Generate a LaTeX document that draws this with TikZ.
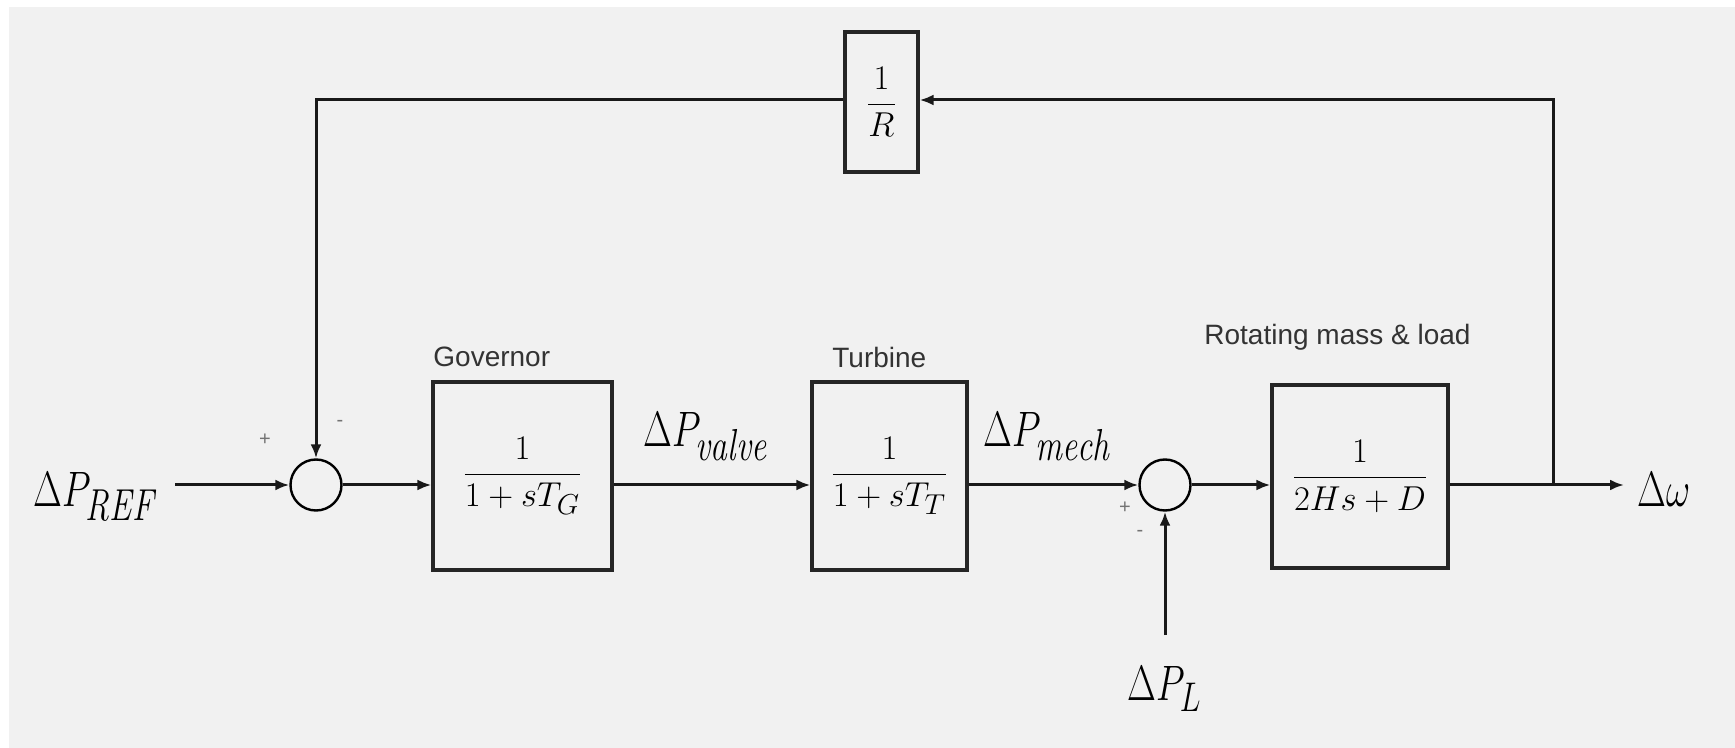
\documentclass[tikz,border=0pt]{standalone}
\usepackage{fontspec}
\usepackage{graphicx}
\setsansfont{Liberation Sans}
\usetikzlibrary{arrows.meta,calc}
\definecolor{bg}{RGB}{241,241,241}
\newcommand{\narrow}[1]{\scalebox{0.75}[1]{#1}}
\begin{document}
\begin{tikzpicture}[x=0.5pt,y=-0.5pt,
  conn/.style={line width=1.5pt, draw=black!90},
  arr/.style={conn,-{Latex[length=7pt,width=5.5pt]}},
  blk/.style={draw=black!85, line width=1.6pt, inner sep=0pt, font=\fontsize{19}{23}\selectfont},
  sumnode/.style={circle, draw=black, line width=1.2pt, minimum size=25.5pt, inner sep=0pt},
  lab/.style={font=\sffamily\fontsize{14}{16}\selectfont, anchor=base west, inner sep=0pt, text=black!80},
  sig/.style={font=\sffamily\fontsize{10}{10}\selectfont, inner sep=0pt, text=black!55},
  var/.style={anchor=base west, inner sep=0pt, font=\fontsize{32}{34}\selectfont}]
\fill[white] (0,0) rectangle (1735,748);
\fill[bg] (9,7) rectangle (1735,748);
\useasboundingbox (0,0) rectangle (1735,748);

% variables
\node[var] (ref) at (33,507) {\narrow{$\Delta P_{\mathit{REF}}$}};
\node[var] (valve) at (643,447) {\narrow{$\Delta P_{\mathit{valve}}$}};
\node[var] (mech) at (983,447) {\narrow{$\Delta P_{\mathit{mech}}$}};
\node[var] (pl) at (1127,700) {\narrow{$\Delta P_{L}$}};
\node[var] (w) at (1637,507) {\narrow{$\Delta\omega$}};

% blocks
\node[sumnode] (s1) at (316,485) {};
\node[blk, minimum width=89.5pt, minimum height=94pt] (gov) at (522.5,476) {$\displaystyle\frac{1}{1+sT_G}$};
\node[blk, minimum width=77.5pt, minimum height=94pt] (tur) at (889.5,476) {$\displaystyle\frac{1}{1+sT_T}$};
\node[sumnode] (s2) at (1165,485) {};
\node[blk, minimum width=88pt, minimum height=91.5pt] (load) at (1360,476.5) {$\displaystyle\frac{1}{2Hs+D}$};
\node[blk, minimum width=36.5pt, minimum height=70pt] (rbox) at (881.5,102) {$\displaystyle\frac{1}{R}$};

% labels
\node[lab] (govl) at (433,367) {Governor};
\node[lab] (turl) at (832,368) {Turbine};
\node[lab] (loadl) at (1204,345) {Rotating mass \& load};
\node[sig] (p1) at (265,440) {+};
\node[sig] (m1) at (340,423) {-};
\node[sig] (p2) at (1125,508) {+};
\node[sig] (m2) at (1140,533) {-};

% coordinates
\coordinate (in) at (175,485);
\coordinate (br) at (1553,485);
\coordinate (out) at (1624,485);
\coordinate (tr) at (1553,100);
\coordinate (tl) at (316,100);
\coordinate (ls) at (1165,635);

% connectors
\draw[arr] (in) -- (s1.west);
\draw[arr] (s1.east) -- (gov.west |- s1);
\draw[arr] (gov.east |- s1) -- (tur.west |- s1);
\draw[arr] (tur.east |- s1) -- (s2.west);
\draw[arr] (s2.east) -- (load.west |- s2);
\draw[conn] (load.east |- s2) -- (br);
\draw[arr] (br) -- (out);
\draw[arr] (br) -- (tr) -- (rbox.east |- tr);
\draw[arr] (rbox.west |- tr) -- (tl) -- (s1.north);
\draw[arr] (ls) -- (s2.south);
\end{tikzpicture}
\end{document}
